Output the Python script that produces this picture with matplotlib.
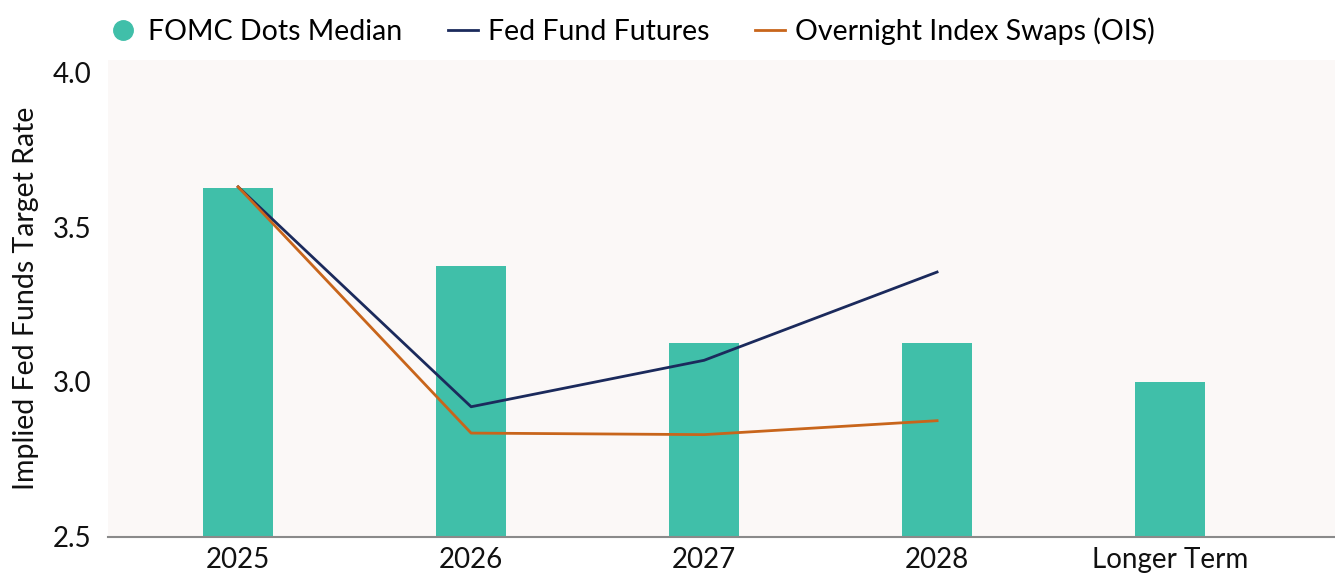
import numpy as np
import matplotlib.pyplot as plt
from matplotlib.lines import Line2D

categories = ["2025", "2026", "2027", "2028", "Longer Term"]
fomc_dots = [3.625, 3.375, 3.125, 3.125, 3.0]
fed_futures = [3.63, 2.92, 3.07, 3.355]
ois = [3.63, 2.835, 2.83, 2.875]

teal = "#40BFA9"
navy = "#1B2A5C"
orange = "#C8651B"

plt.rcParams["font.family"] = ["Lato", "DejaVu Sans"]

fig = plt.figure(figsize=(13.35, 5.76), dpi=100)
ax = fig.add_axes([0.081, 0.068, 0.919, 0.828])
ax.set_facecolor("#FBF8F7")

x = np.arange(len(categories))
ax.bar(x, [v - 2.5 for v in fomc_dots], bottom=2.5, width=0.3, color=teal, zorder=2)
ax.plot(x[:len(fed_futures)], fed_futures, color=navy, lw=2, zorder=3)
ax.plot(x[:len(ois)], ois, color=orange, lw=2, zorder=3)

ax.set_xlim(-0.558, 4.708)
ax.set_ylim(2.5, 4.04)
ax.set_yticks([2.5, 3.0, 3.5, 4.0])
ax.set_yticklabels(["2.5", "3.0", "3.5", "4.0"])
ax.set_xticks(x)
ax.set_xticklabels(categories)
ax.tick_params(axis="both", length=0, colors="#111111")
ax.tick_params(axis="x", pad=7, labelsize=20)
ax.tick_params(axis="y", pad=12, labelsize=20)

for s in ["top", "right", "left"]:
    ax.spines[s].set_visible(False)
ax.spines["bottom"].set_color("#8a8a8a")
ax.spines["bottom"].set_linewidth(1.5)

ax.set_ylabel("Implied Fed Funds Target Rate", fontsize=20.5, labelpad=10, color="#111111")

handles = [
    Line2D([], [], marker="o", color=teal, linestyle="none", markersize=14),
    Line2D([], [], color=navy, lw=2),
    Line2D([], [], color=orange, lw=2),
]
labels = ["FOMC Dots Median", "Fed Fund Futures", "Overnight Index Swaps (OIS)"]
fig.legend(handles, labels, loc="upper left", bbox_to_anchor=(0.062, 1.015), ncol=3,
           frameon=False, fontsize=20.5, handlelength=1.05, handletextpad=0.35,
           columnspacing=1.6)

fig.savefig("out.png", dpi=100)
